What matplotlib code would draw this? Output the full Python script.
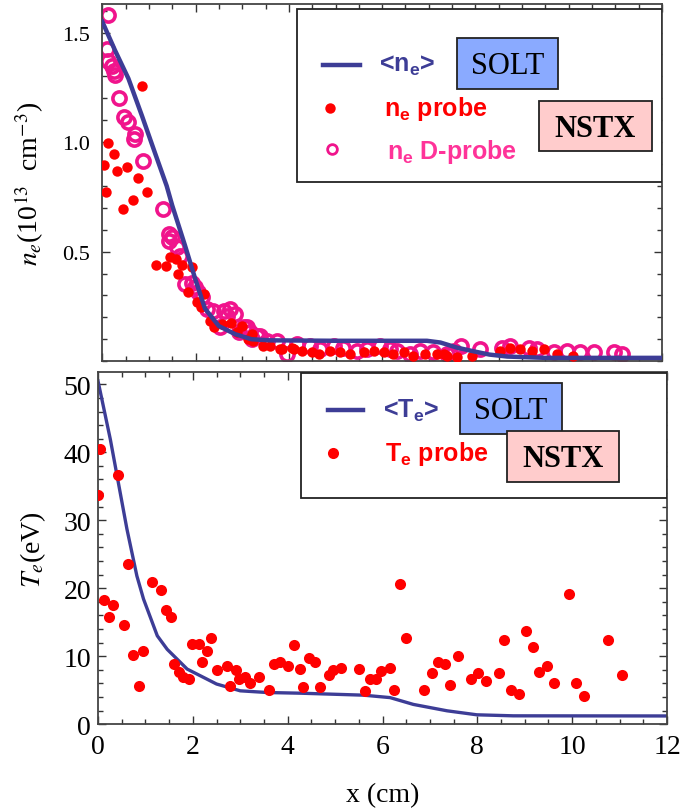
import numpy as np
import matplotlib
matplotlib.use("Agg")
import matplotlib.pyplot as plt
from matplotlib.patches import Rectangle
from matplotlib.ticker import MultipleLocator

plt.rcParams['font.family'] = ['Liberation Serif', 'DejaVu Serif']
plt.rcParams['mathtext.fontset'] = 'stix'
# custom math font only used by the legend texts (bold Arial-like)
plt.rcParams['mathtext.rm'] = 'Liberation Sans:bold'
plt.rcParams['mathtext.it'] = 'Liberation Sans:bold'
plt.rcParams['mathtext.bf'] = 'Liberation Sans:bold'

## SOLT <n_e> curve
ne_x = [0.0, 0.27, 0.56, 0.85, 1.13, 1.38, 1.5, 1.77, 2.0, 2.2, 2.5, 2.85, 3.2, 3.6,
        5.0, 6.96, 7.25, 7.6, 7.96, 8.3, 8.68, 9.5, 12.0]
ne_y = [1.55, 1.42, 1.29, 1.12, 0.95, 0.80, 0.71, 0.53, 0.37, 0.24, 0.16, 0.123, 0.10, 0.095,
        0.093, 0.093, 0.085, 0.062, 0.045, 0.03, 0.021, 0.015, 0.015]

## n_e probe (filled)
ne_probe_x = [0.85, 0.13, 0.04, 0.26, 0.32, 0.52, 0.76, 0.08, 0.95, 0.65, 0.45, 1.15, 1.36, 1.45,
              1.58, 1.70, 1.63, 1.92, 1.83, 2.03, 2.11, 2.17, 2.31, 2.40, 2.56, 2.76, 2.88, 2.99,
              3.13, 3.2, 3.45, 3.85, 4.10, 3.24, 3.6, 3.81, 4.06, 4.28, 4.49, 4.64, 4.89, 5.1,
              5.32, 5.6, 5.82, 6.03, 6.24, 6.46, 6.67, 6.92, 7.18, 7.39, 7.6, 7.32, 7.93, 8.53,
              8.75, 8.96, 9.21, 9.46, 9.75, 10.1]
ne_probe_y = [1.254, 0.995, 0.896, 0.948, 0.869, 0.887, 0.834, 0.773, 0.773, 0.737, 0.694, 0.44,
              0.435, 0.476, 0.466, 0.44, 0.397, 0.43, 0.314, 0.268, 0.245, 0.306, 0.184, 0.154,
              0.169, 0.172, 0.131, 0.161, 0.10, 0.123, 0.07, 0.055, 0.055, 0.093, 0.07, 0.055,
              0.062, 0.047, 0.04, 0.032, 0.047, 0.04, 0.032, 0.04, 0.047, 0.04, 0.032, 0.04,
              0.024, 0.032, 0.032, 0.024, 0.017, 0.032, 0.024, 0.047, 0.062, 0.055, 0.047,
              0.055, 0.032, 0.024]

## n_e D-probe (open)
ne_dprobe_x = [0.12, 0.09, 0.13, 0.2, 0.24, 0.27, 0.36, 0.47, 0.54, 0.70, 0.68, 0.88, 1.30,
               1.44, 1.42, 1.49, 1.6, 1.67, 1.77, 1.92, 1.99, 2.06, 2.13, 2.24, 2.38, 2.53,
               2.6, 2.67, 2.74, 2.85, 2.92, 3.1, 3.2, 3.31, 3.53, 3.96, 3.03, 3.17, 3.39, 3.74,
               4.17, 4.46, 4.67, 4.96, 5.17, 5.46, 5.67, 5.96, 6.17, 6.32, 6.6, 6.82, 7.1,
               7.39, 7.53, 7.68, 8.1, 8.57, 8.75, 9.14, 9.32, 9.68, 9.97, 10.25, 10.54, 10.97,
               11.15]
ne_dprobe_y = [1.58, 1.425, 1.371, 1.348, 1.326, 1.306, 1.2, 1.113, 1.09, 1.037, 1.014, 0.912,
               0.694, 0.58, 0.549, 0.565, 0.519, 0.481, 0.352, 0.359, 0.337, 0.314, 0.291,
               0.237, 0.23, 0.154, 0.23, 0.207, 0.237, 0.215, 0.131, 0.154, 0.10, 0.116, 0.093,
               0.032, 0.154, 0.131, 0.116, 0.093, 0.078, 0.07, 0.055, 0.07, 0.062, 0.047, 0.055,
               0.07, 0.055, 0.047, 0.032, 0.047, 0.04, 0.032, 0.047, 0.07, 0.055, 0.062, 0.07,
               0.062, 0.055, 0.04, 0.047, 0.04, 0.04, 0.04, 0.032]

## SOLT <T_e> curve
te_x = [0.0, 0.26, 0.61, 0.82, 0.96, 1.25, 1.46, 1.88, 2.5, 3.0, 3.57, 4.27, 5.6, 6.16,
        6.65, 7.36, 7.99, 8.76, 12.0]
te_y = [50.5, 41.9, 28.7, 21.8, 18.4, 13.0, 11.0, 8.1, 5.9, 4.9, 4.65, 4.55, 4.26, 3.9,
        2.9, 1.96, 1.37, 1.22, 1.2]

## T_e probe
te_probe_x = [0.0, 0.05, 0.12, 0.24, 0.32, 0.42, 0.54, 0.63, 0.74, 0.87, 0.94, 1.13, 1.33,
              1.44, 1.53, 1.6, 1.7, 1.8, 1.92, 1.99, 2.13, 2.19, 2.30, 2.39, 2.51, 2.71, 2.78,
              2.9, 2.98, 3.1, 3.2, 3.4, 3.61, 3.71, 3.84, 4.01, 4.14, 4.26, 4.33, 4.46, 4.58,
              4.68, 4.88, 4.96, 5.12, 5.51, 5.63, 5.74, 5.86, 5.97, 6.15, 6.25, 6.37, 6.49,
              6.88, 7.04, 7.16, 7.31, 7.43, 7.59, 7.86, 8.02, 8.18, 8.45, 8.57, 8.71, 8.88,
              9.02, 9.18, 9.3, 9.47, 9.62, 9.94, 10.08, 10.24, 10.75, 11.06]
te_probe_y = [33.7, 40.5, 18.3, 15.7, 17.5, 36.7, 14.6, 23.6, 10.2, 5.6, 10.7, 20.9, 19.8,
              16.8, 15.7, 8.9, 7.7, 7.0, 6.7, 11.8, 11.8, 9.1, 10.7, 12.7, 8.0, 8.6, 5.6, 8.0,
              6.7, 7.0, 6.1, 7.0, 5.0, 8.9, 9.1, 8.6, 11.6, 8.1, 5.5, 9.7, 9.2, 5.5, 7.2, 8.0,
              8.3, 8.1, 4.8, 6.6, 6.6, 7.8, 8.3, 5.0, 20.6, 12.6, 5.0, 7.5, 9.2, 8.9, 5.8,
              10.0, 6.6, 7.5, 6.4, 7.5, 12.4, 5.0, 4.5, 13.7, 11.3, 7.7, 8.6, 6.1, 19.2, 6.1,
              4.2, 12.4, 7.2]

navy = '#3d3d96'
red = '#ff0000'
pink = '#f0148c'
serif = 'Liberation Serif'

fig = plt.figure(figsize=(6.83, 8.12), dpi=100)
ax1 = fig.add_axes([0.1498, 0.554, 0.8195, 0.4397])
ax2 = fig.add_axes([0.1435, 0.107, 0.8331, 0.4335])

##---- top panel: density
ax1.plot(ne_dprobe_x, ne_dprobe_y, 'o', mfc='none', mec=pink, ms=9.5, mew=2.6, zorder=2)
ax1.plot(ne_probe_x, ne_probe_y, 'o', color=red, ms=7.5, mew=0, zorder=3)
ax1.plot(ne_x, ne_y, color=navy, lw=3.2, zorder=4)
ax1.set_xlim(0, 12)
ax1.set_ylim(0, 1.63)
ax1.xaxis.set_major_locator(MultipleLocator(2))
ax1.xaxis.set_minor_locator(MultipleLocator(0.5))
ax1.set_yticks([0.5, 1.0, 1.5])
ax1.yaxis.set_minor_locator(MultipleLocator(0.1))
ax1.tick_params(labelbottom=False)
ax1.tick_params(axis='y', labelsize=16, pad=9, labelfontfamily=serif)
ax1.set_ylabel(r'$n_e$(10$^{13}$  cm$^{-3}$)', fontsize=20, family=serif)
ax1.yaxis.set_label_coords(-0.10, 0.5)

##---- bottom panel: temperature
ax2.plot(te_x, te_y, color=navy, lw=2.4, zorder=2)
ax2.plot(te_probe_x, te_probe_y, 'o', color=red, ms=8, mew=0, zorder=3)
ax2.set_xlim(0, 12)
ax2.set_ylim(0, 51.8)
ax2.xaxis.set_major_locator(MultipleLocator(2))
ax2.xaxis.set_minor_locator(MultipleLocator(0.5))
ax2.yaxis.set_major_locator(MultipleLocator(10))
ax2.yaxis.set_minor_locator(MultipleLocator(2))
ax2.tick_params(labelsize=20, labelfontfamily=serif)
ax2.tick_params(axis='x', pad=7)
ax2.tick_params(axis='y', pad=5)
ax2.set_ylabel(r'$T_e$(eV)', fontsize=20, family=serif)
ax2.yaxis.set_label_coords(-0.088, 0.5)
ax2.set_xlabel('x (cm)', fontsize=20, family=serif)
ax2.xaxis.set_label_coords(0.5, -0.165)

for ax in (ax1, ax2):
    ax.tick_params(which='both', direction='in', top=True, right=True, width=1, color='#333333')
    ax.tick_params(which='major', length=6)
    ax.tick_params(which='minor', length=3.5)
    for s in ax.spines.values():
        s.set_linewidth(1.3)
        s.set_color('#444444')


def legend_text(ax, x, y, s, c):
    ax.text(x, y, s, color=c, transform=ax.transAxes, family='Liberation Sans',
            fontweight='bold', fontsize=18, math_fontfamily='custom',
            va='center', ha='left', zorder=11)


def label_box(ax, x0, y0, x1, y1, s, fc, bold):
    ax.add_patch(Rectangle((x0, y0), x1 - x0, y1 - y0, transform=ax.transAxes,
                           facecolor=fc, edgecolor='#222222', lw=1.3, zorder=12))
    ax.text((x0 + x1) / 2, (y0 + y1) / 2 - 0.005, s, transform=ax.transAxes, ha='center',
            va='center', fontsize=22, fontweight='bold' if bold else 'normal',
            family=serif, zorder=13)


# top legend
ax1.add_patch(Rectangle((0.348, 0.501), 0.652, 0.485, transform=ax1.transAxes,
                        facecolor='white', edgecolor='#222222', lw=1.3, zorder=10))
ax1.plot([0.394, 0.46], [0.829, 0.829], color=navy, lw=3.2, transform=ax1.transAxes, zorder=11)
legend_text(ax1, 0.494, 0.829, r'<$\mathrm{n_e}$>', navy)
ax1.plot([0.406], [0.709], 'o', color=red, ms=7.5, mew=0, transform=ax1.transAxes, zorder=11)
legend_text(ax1, 0.503, 0.708, r'$\mathrm{n_e}$ probe', red)
ax1.plot([0.41], [0.594], 'o', mfc='none', mec=pink, ms=7, mew=2.0, transform=ax1.transAxes, zorder=11)
legend_text(ax1, 0.508, 0.588, r'$\mathrm{n_e}$ D-probe', '#ff3399')
label_box(ax1, 0.634, 0.762, 0.814, 0.905, 'SOLT', '#8aaaff', False)
label_box(ax1, 0.780, 0.588, 0.982, 0.728, 'NSTX', '#ffcccc', True)

# bottom legend
ax2.add_patch(Rectangle((0.357, 0.642), 0.643, 0.355, transform=ax2.transAxes,
                        facecolor='white', edgecolor='#222222', lw=1.3, zorder=10))
ax2.plot([0.404, 0.466], [0.892, 0.892], color=navy, lw=3.2, transform=ax2.transAxes, zorder=11)
legend_text(ax2, 0.501, 0.892, r'<$\mathrm{T_e}$>', navy)
ax2.plot([0.413], [0.77], 'o', color=red, ms=8, mew=0, transform=ax2.transAxes, zorder=11)
legend_text(ax2, 0.505, 0.77, r'$\mathrm{T_e}$ probe', red)
label_box(ax2, 0.636, 0.824, 0.815, 0.969, 'SOLT', '#8aaaff', False)
label_box(ax2, 0.719, 0.688, 0.916, 0.832, 'NSTX', '#ffcccc', True)

fig.savefig('out.png', dpi=100)
